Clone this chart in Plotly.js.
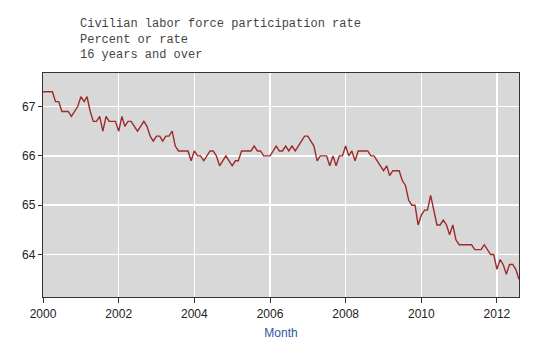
<!DOCTYPE html>
<html>
<head>
<meta charset="utf-8">
<script src="https://cdn.plot.ly/plotly-3.0.1.min.js"></script>
<style>html,body{margin:0;padding:0;background:#fff;}#chart{width:550px;height:362px;}</style>
</head>
<body>
<div id="chart"></div>
<script>
// Monthly civilian labor force participation rate, Jan 2000 - Aug 2012
const years = [2000,2001,2002,2003,2004,2005,2006,2007,2008,2009,2010,2011,2012];
const rate2000 = [67.3,67.3,67.3,67.3,67.1,67.1,66.9,66.9,66.9,66.8,66.9,67.0];
const rate2001 = [67.2,67.1,67.2,66.9,66.7,66.7,66.8,66.5,66.8,66.7,66.7,66.7];
const rate2002 = [66.5,66.8,66.6,66.7,66.7,66.6,66.5,66.6,66.7,66.6,66.4,66.3];
const rate2003 = [66.4,66.4,66.3,66.4,66.4,66.5,66.2,66.1,66.1,66.1,66.1,65.9];
const rate2004 = [66.1,66.0,66.0,65.9,66.0,66.1,66.1,66.0,65.8,65.9,66.0,65.9];
const rate2005 = [65.8,65.9,65.9,66.1,66.1,66.1,66.1,66.2,66.1,66.1,66.0,66.0];
const rate2006 = [66.0,66.1,66.2,66.1,66.1,66.2,66.1,66.2,66.1,66.2,66.3,66.4];
const rate2007 = [66.4,66.3,66.2,65.9,66.0,66.0,66.0,65.8,66.0,65.8,66.0,66.0];
const rate2008 = [66.2,66.0,66.1,65.9,66.1,66.1,66.1,66.1,66.0,66.0,65.9,65.8];
const rate2009 = [65.7,65.8,65.6,65.7,65.7,65.7,65.5,65.4,65.1,65.0,65.0,64.6];
const rate2010 = [64.8,64.9,64.9,65.2,64.9,64.6,64.6,64.7,64.6,64.4,64.6,64.3];
const rate2011 = [64.2,64.2,64.2,64.2,64.2,64.1,64.1,64.1,64.2,64.1,64.0,64.0];
const rate2012 = [63.7,63.9,63.8,63.6,63.8,63.8,63.7,63.5];
const yTickVals = [64,65,66,67];
const titleLines = ["Civilian labor force participation rate","Percent or rate","16 years and over"];
const xTitle = "Month";

const byYear = [rate2000,rate2001,rate2002,rate2003,rate2004,rate2005,rate2006,rate2007,rate2008,rate2009,rate2010,rate2011,rate2012];
const dates = [], values = [];
byYear.forEach((arr, i) => {
  arr.forEach((v, m) => {
    dates.push(years[i] + "-" + String(m + 1).padStart(2, "0") + "-01");
    values.push(v);
  });
});

const trace = {
  x: dates, y: values, type: "scatter", mode: "lines",
  line: {color: "#9e2a2b", width: 1.4},
  hoverinfo: "x+y"
};

const layout = {
  width: 550, height: 362,
  margin: {l: 43, r: 31, t: 73, b: 65},
  paper_bgcolor: "#ffffff",
  plot_bgcolor: "#d8d8d8",
  showlegend: false,
  font: {family: "Liberation Sans, Arial, sans-serif", size: 12, color: "#222"},
  xaxis: {
    type: "date",
    range: ["2000-01-01", "2012-08-01"],
    dtick: "M24", tick0: "2000-01-01", tickformat: "%Y",
    ticks: "outside", ticklen: 5, tickcolor: "#333", tickwidth: 1,
    showgrid: true, gridcolor: "#ffffff", gridwidth: 1.5,
    showline: true, linecolor: "#333", linewidth: 1.2, mirror: true,
    zeroline: false,
    tickfont: {size: 12, color: "#222"},
    title: {text: xTitle, font: {size: 12, color: "#2f56a0"}, standoff: 9}
  },
  yaxis: {
    range: [63.14, 67.68],
    tickvals: yTickVals,
    ticks: "outside", ticklen: 4, tickcolor: "#333", tickwidth: 1,
    showgrid: true, gridcolor: "#ffffff", gridwidth: 1.5,
    showline: true, linecolor: "#333", linewidth: 1.2, mirror: true,
    zeroline: false,
    tickfont: {size: 12, color: "#222"}
  },
  annotations: [{
    text: titleLines.join("<br>"),
    xref: "paper", yref: "paper",
    x: 0.073, y: 1.261, xanchor: "left", yanchor: "top",
    align: "left", showarrow: false,
    font: {family: "Liberation Mono, Courier New, monospace", size: 12, color: "#444"}
  }]
};

Plotly.newPlot("chart", [trace], layout, {displayModeBar: false, staticPlot: true});
</script>
</body>
</html>
